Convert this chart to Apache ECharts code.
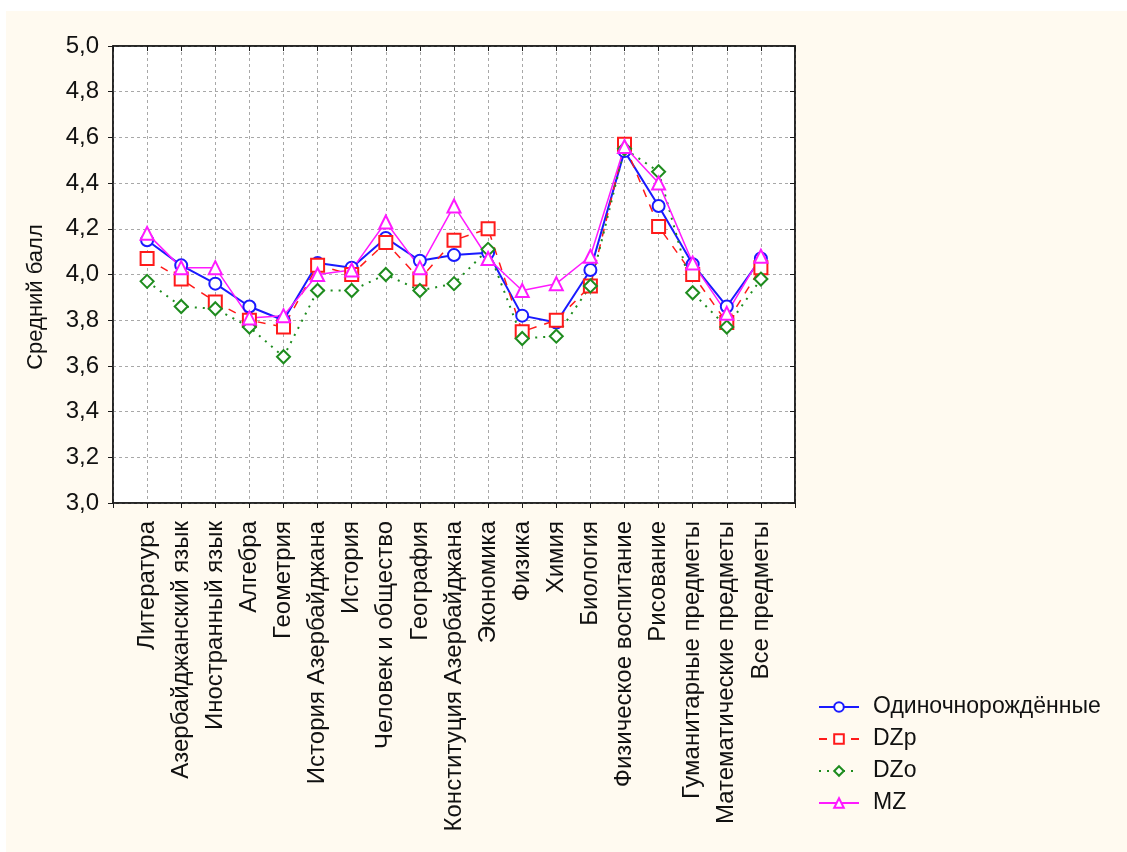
<!DOCTYPE html>
<html>
<head>
<meta charset="utf-8">
<script src="https://cdn.jsdelivr.net/npm/echarts@6/dist/echarts.min.js"></script>
<style>
html,body{margin:0;padding:0;background:#ffffff;width:1127px;height:852px;overflow:hidden;}
#chart{position:absolute;left:6px;top:11px;width:1121px;height:841px;}
</style>
</head>
<body>
<div id="chart"></div>
<script>
var categories = ['Литература','Азербайджанский язык','Иностранный язык','Алгебра','Геометрия','История Азербайджана','История','Человек и общество','География','Конституция Азербайджана','Экономика','Физика','Химия','Биология','Физическое воспитание','Рисование','Гуманитарные предметы','Математические предметы','Все предметы'];
var seriesNames = ['Одиночнорождённые','DZp','DZo','MZ'];
var singleBorn = [4.15, 4.04, 3.96, 3.86, 3.80, 4.05, 4.03, 4.16, 4.06, 4.085, 4.095, 3.82, 3.79, 4.02, 4.54, 4.30, 4.045, 3.86, 4.07];
var dzp        = [4.07, 3.98, 3.88, 3.80, 3.77, 4.04, 4.00, 4.14, 3.98, 4.15, 4.20, 3.75, 3.80, 3.95, 4.57, 4.21, 4.00, 3.79, 4.03];
var dzo        = [3.97, 3.86, 3.85, 3.77, 3.64, 3.93, 3.93, 4.00, 3.93, 3.96, 4.11, 3.72, 3.73, 3.95, 4.55, 4.45, 3.92, 3.77, 3.98];
var mz         = [4.18, 4.03, 4.03, 3.81, 3.82, 4.00, 4.02, 4.23, 4.03, 4.30, 4.07, 3.93, 3.96, 4.08, 4.56, 4.40, 4.05, 3.83, 4.08];
var yTicks = [3.0, 3.2, 3.4, 3.6, 3.8, 4.0, 4.2, 4.4, 4.6, 4.8, 5.0];

var FONT = '"Liberation Sans", Arial, sans-serif';
function pts(arr){ return arr.map(function(v,i){ return [i, v]; }); }

var chart = echarts.init(document.getElementById('chart'));
var gridLine = {show:true, lineStyle:{color:'#a8a8a8', type:[3,3], width:1}};
var axisLineStyle = {show:true, onZero:false, lineStyle:{color:'#1a1a1a', width:1.5}};

chart.setOption({
  backgroundColor:'#FFFAF0',
  animation:false,
  textStyle:{fontFamily:FONT},
  grid:{left:107, top:35, width:682, height:457, show:true, backgroundColor:'#ffffff', borderColor:'#1a1a1a', borderWidth:1.5},
  xAxis:[{
    type:'value', min:-1, max:19, interval:1, position:'bottom',
    axisLine:axisLineStyle,
    axisTick:{show:true, inside:false, length:5, lineStyle:{color:'#1a1a1a'}},
    axisLabel:{show:true, rotate:90, margin:18, fontSize:24, color:'#111', fontFamily:FONT, hideOverlap:false,
      formatter:function(v){ return (v>=0 && v<categories.length && Math.round(v)===v) ? categories[v] : ''; }},
    splitLine:gridLine
  },{
    type:'value', min:-1, max:19, interval:1, position:'top',
    axisLine:axisLineStyle,
    axisTick:{show:true, inside:true, length:5, lineStyle:{color:'#1a1a1a'}},
    axisLabel:{show:false}, splitLine:{show:false}
  }],
  yAxis:[{
    type:'value', min:yTicks[0], max:yTicks[yTicks.length-1], interval:0.2, position:'left',
    axisLine:axisLineStyle,
    axisTick:{show:true, inside:false, length:5, lineStyle:{color:'#1a1a1a'}},
    axisLabel:{show:true, margin:14, fontSize:24, color:'#111', fontFamily:FONT,
      formatter:function(v){ return v.toFixed(1).replace('.', ','); }},
    splitLine:gridLine
  },{
    type:'value', min:yTicks[0], max:yTicks[yTicks.length-1], interval:0.2, position:'right',
    axisLine:axisLineStyle,
    axisTick:{show:true, inside:true, length:5, lineStyle:{color:'#1a1a1a'}},
    axisLabel:{show:false}, splitLine:{show:false}
  }],
  legend:{
    orient:'vertical', left:807, top:679,
    itemWidth:40, itemHeight:12, itemGap:8,
    textStyle:{fontSize:23, color:'#111', fontFamily:FONT, lineHeight:24, padding:[0,0,0,9]},
    data:seriesNames
  },
  graphic:[{
    type:'text', x:30, y:286, rotation:Math.PI/2,
    style:{text:'Средний балл', font:'22px ' + FONT, fill:'#111', textAlign:'center', textVerticalAlign:'middle'}
  }],
  series:[{
    name:seriesNames[0], type:'line', data:pts(singleBorn),
    symbol:'emptyCircle', symbolSize:12,
    lineStyle:{color:'#1a1aff', width:2},
    itemStyle:{color:'#1a1aff', borderWidth:1.5}
  },{
    name:seriesNames[1], type:'line', data:pts(dzp),
    symbol:'emptyRect', symbolSize:13,
    lineStyle:{color:'#ff1a1a', width:1.5, type:[8,8]},
    itemStyle:{color:'#ff1a1a', borderWidth:1.5}
  },{
    name:seriesNames[2], type:'line', data:pts(dzo),
    symbol:'emptyDiamond', symbolSize:13,
    lineStyle:{color:'#1e8c1e', width:2, type:[2,6]},
    itemStyle:{color:'#1e8c1e', borderWidth:1.5}
  },{
    name:seriesNames[3], type:'line', data:pts(mz),
    symbol:'emptyTriangle', symbolSize:13,
    lineStyle:{color:'#ff1aff', width:1.5},
    itemStyle:{color:'#ff1aff', borderWidth:1.5}
  }]
});
</script>
</body>
</html>
